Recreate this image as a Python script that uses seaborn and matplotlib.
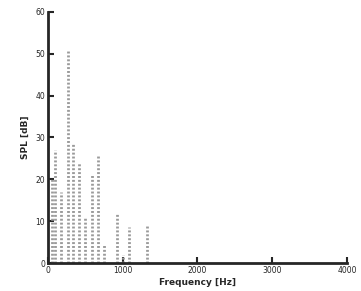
import pandas as pd
import matplotlib
matplotlib.use("Agg")
import matplotlib.pyplot as plt
import seaborn as sns

# пики спектра (частота, уровень)
freq = [50, 90, 174, 263, 339, 415, 499, 584, 673, 754, 919, 1003, 1088, 1329]
spl = [20, 27, 17, 51, 28.5, 24, 11, 21, 25.5, 4.5, 12, 2, 8.5, 8.8]
xticks = [0, 1000, 2000, 3000, 4000]
yticks = [0, 10, 20, 30, 40, 50, 60]

df = pd.DataFrame({'freq': freq, 'spl': spl})

sns.set_style("ticks")
plt.rcParams['font.family'] = ['DejaVu Sans']

fig = plt.figure(figsize=(3.61, 2.91), dpi=100)
ax = fig.add_axes([0.133, 0.096, 0.828, 0.863])

ax.vlines(df['freq'], 0, df['spl'], colors='#9a9a9a', linestyles=(0, (0.7, 0.7)), linewidth=2)

ax.set_xlim(0, 4000)
ax.set_ylim(0, 60)
ax.set_xticks(xticks)
ax.set_yticks(yticks)
ax.tick_params(direction='in', length=4, width=1.5, labelsize=5.5, pad=2)
for s in ['left', 'bottom']:
    ax.spines[s].set_linewidth(2)
sns.despine(ax=ax)

ax.set_xlabel('Frequency [Hz]', fontsize=6.5, fontweight='bold', labelpad=2)
ax.set_ylabel('SPL [dB]', fontsize=6.5, fontweight='bold', labelpad=4)

fig.savefig('out.png', dpi=100)
